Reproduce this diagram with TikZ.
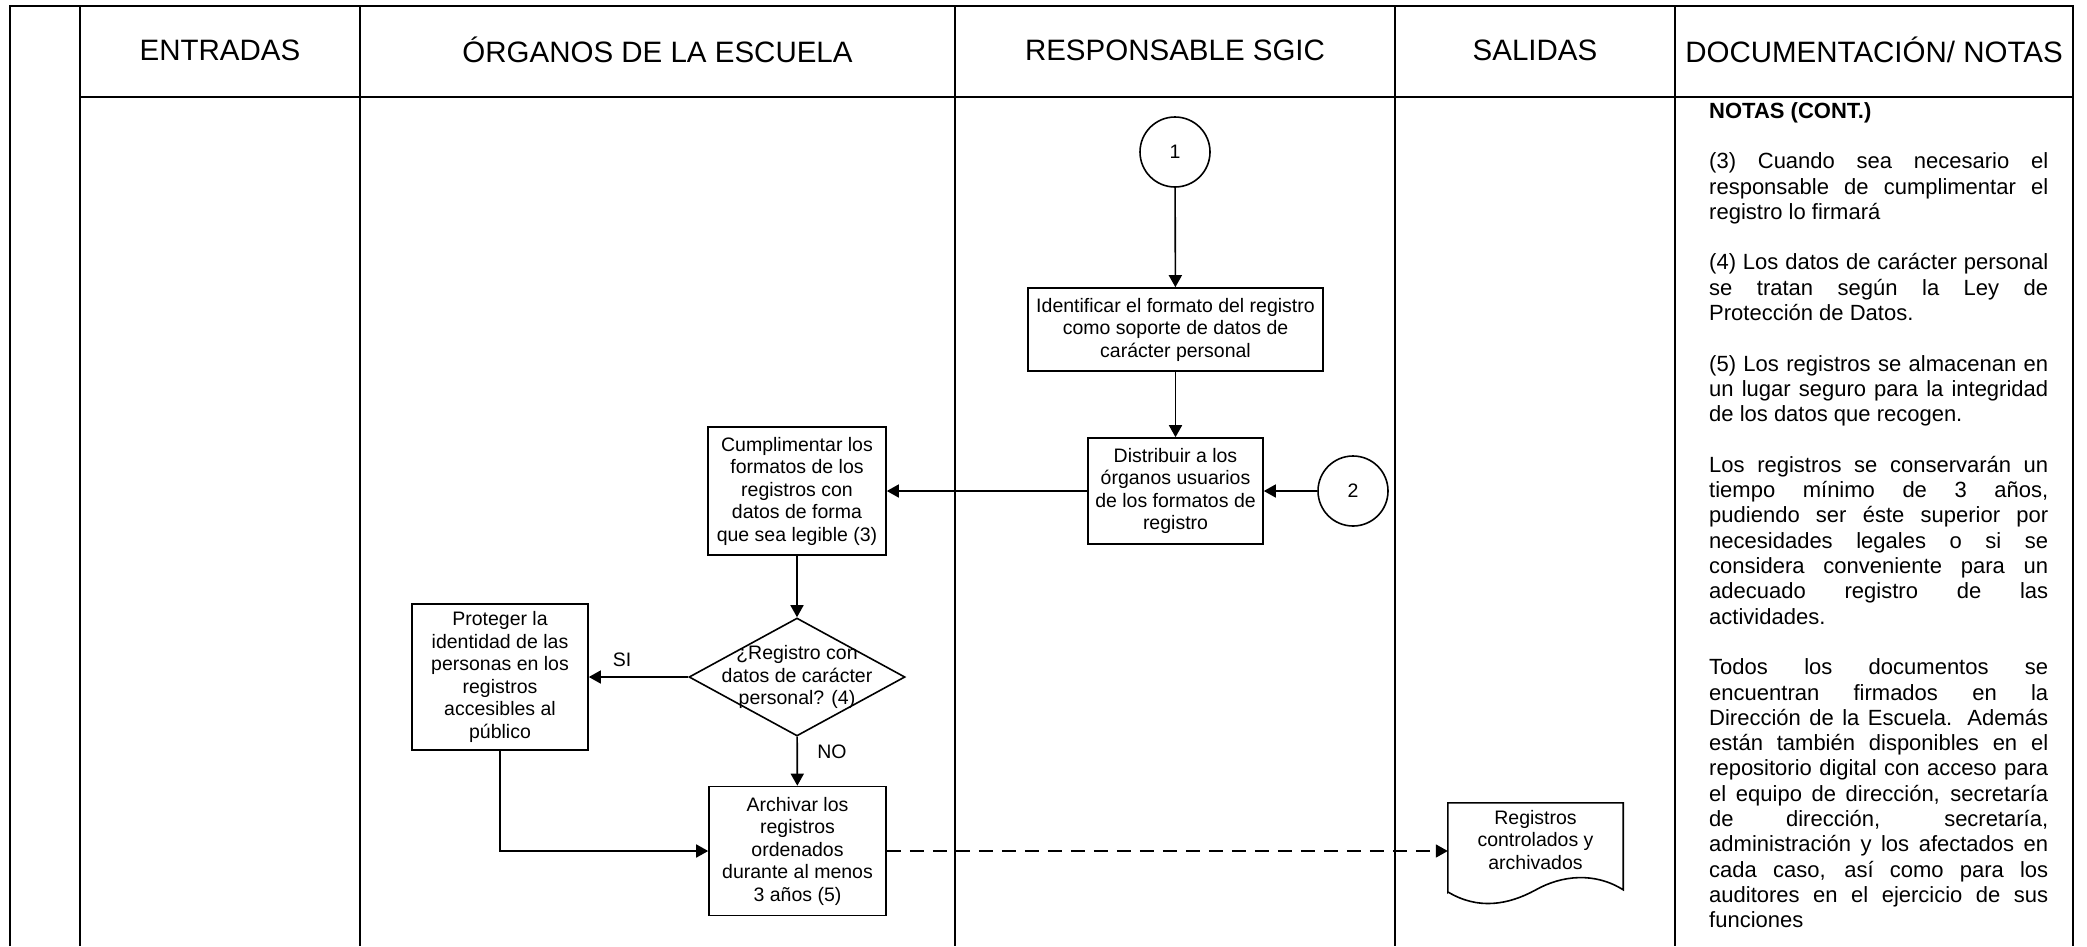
\documentclass[tikz,border=0pt]{standalone}
\usepackage{fontspec}
\setmainfont{Liberation Sans}
\usetikzlibrary{arrows.meta,shapes.geometric}
\begin{document}
\begin{tikzpicture}[x=1pt,y=-1pt,
  tbl/.style={line width=2.4pt},
  hdr/.style={font=\fontsize{29.5}{33}\selectfont, anchor=center, inner sep=0},
  box/.style={draw, line width=1.6pt, rectangle, inner sep=2pt, align=center, font=\fontsize{19.5}{22.5}\selectfont},
  conn/.style={draw, line width=1.6pt, circle, minimum size=70pt, inner sep=0, font=\fontsize{19.5}{22.5}\selectfont},
  dia/.style={draw, line width=1.6pt, diamond, minimum width=216pt, minimum height=118pt, inner sep=0},
  lbl/.style={font=\fontsize{19.5}{22.5}\selectfont, inner sep=0, align=center},
  arr/.style={line width=1.6pt, -{Triangle[length=12pt,width=13pt]}},
  dsh/.style={line width=1.6pt, dash pattern=on 14pt off 9pt, -{Triangle[length=12pt,width=13pt]}},
]
\useasboundingbox (0,0) rectangle (2087,946);
% table
\draw[tbl] (10,946) -- (10,6) -- (2073,6) -- (2073,946);
\draw[tbl] (80,6) -- (80,946);
\draw[tbl] (360,6) -- (360,946);
\draw[tbl] (955,6) -- (955,946);
\draw[tbl] (1395,6) -- (1395,946);
\draw[tbl] (1675,6) -- (1675,946);
\draw[tbl] (80,97) -- (2073,97);
% headers
\node[hdr] (h1) at (220,50) {ENTRADAS};
\node[hdr] (h2) at (657.5,50) {ÓRGANOS DE LA ESCUELA};
\node[hdr] (h3) at (1175,50) {RESPONSABLE SGIC};
\node[hdr] (h4) at (1535,50) {SALIDAS};
\node[hdr] (h5) at (1874,50) {DOCUMENTACIÓN/ NOTAS};
% flow
\node[conn] (c1) at (1175,152) {1};
\node[box, minimum width=295pt, minimum height=83pt] (ident) at (1175.5,329.5) {Identificar el formato del registro\\como soporte de datos de\\carácter personal};
\node[box, minimum width=175pt, minimum height=106pt] (dist) at (1175.5,491) {Distribuir a los\\órganos usuarios\\de los formatos de\\registro};
\node[conn] (c2) at (1353,491) {2};
\node[box, minimum width=178pt, minimum height=128pt] (cump) at (797,491) {Cumplimentar los\\formatos de los\\registros con\\datos de forma\\que sea legible (3)};
\node[dia] (dec) at (797,677) {};
\node[lbl] (dectext) at (797,677) {¿Registro con\\datos de carácter\\personal? (4)};
\node[box, minimum width=176pt, minimum height=146pt] (prot) at (500,677) {Proteger la\\identidad de las\\personas en los\\registros\\accesibles al\\público};
\node[box, minimum width=177pt, minimum height=129pt] (arch) at (797.5,851) {Archivar los\\registros\\ordenados\\durante al menos\\3 años (5)};
\node[lbl] (si) at (622,660) {SI};
\node[lbl] (no) at (832,752) {NO};
% document shape
\node[inner sep=0, minimum width=175pt, minimum height=96pt] (doc) at (1535.5,851) {};
\draw[line width=1.6pt] (doc.south west) ++(0,-7) -- (doc.north west) -- (doc.north east) -- ++(0,87)
  .. controls (1595,872) and (1562,875) .. (1535.5,890)
  .. controls (1508,905) and (1478,910) .. (1448,892) -- cycle;
\node[lbl] (doctext) at (1535.5,840) {Registros\\controlados y\\archivados};
% connectors
\draw[arr] (c1) -- (ident);
\draw[arr] (ident) -- (dist);
\draw[arr] (c2) -- (dist);
\draw[arr] (dist) -- (cump);
\draw[arr] (cump) -- (dec);
\draw[arr] (dec) -- (prot);
\draw[arr] (dec) -- (arch);
\draw[arr] (prot.south) |- (arch.west);
\draw[dsh] (arch.east) -- (doc.west);
% notes
\node[anchor=north west, inner sep=0, text width=339pt, align=justify, font=\fontsize{22}{25.3}\selectfont] (notes) at (1709,102) {%
\setlength{\parindent}{0pt}\setlength{\parskip}{25.3pt}\tolerance=10000\hbadness=10000
{\bfseries NOTAS (CONT.)}\par
(3) Cuando sea necesario el\linebreak responsable de cumplimentar el\linebreak registro lo firmará\par
(4) Los datos de carácter personal\linebreak se tratan según la Ley de\linebreak Protección de Datos.\par
(5) Los registros se almacenan en\linebreak un lugar seguro para la integridad\linebreak de los datos que recogen.\par
Los registros se conservarán un\linebreak tiempo mínimo de 3 años,\linebreak pudiendo ser éste superior por\linebreak necesidades legales o si se\linebreak considera conveniente para un\linebreak adecuado registro de las\linebreak actividades.\par
Todos los documentos se\linebreak encuentran firmados en la\linebreak Dirección de la Escuela. Además\linebreak están también disponibles en el\linebreak repositorio digital con acceso para\linebreak el equipo de dirección, secretaría\linebreak de dirección, secretaría,\linebreak administración y los afectados en\linebreak cada caso, así como para los\linebreak auditores en el ejercicio de sus\linebreak funciones};
\end{tikzpicture}
\end{document}
